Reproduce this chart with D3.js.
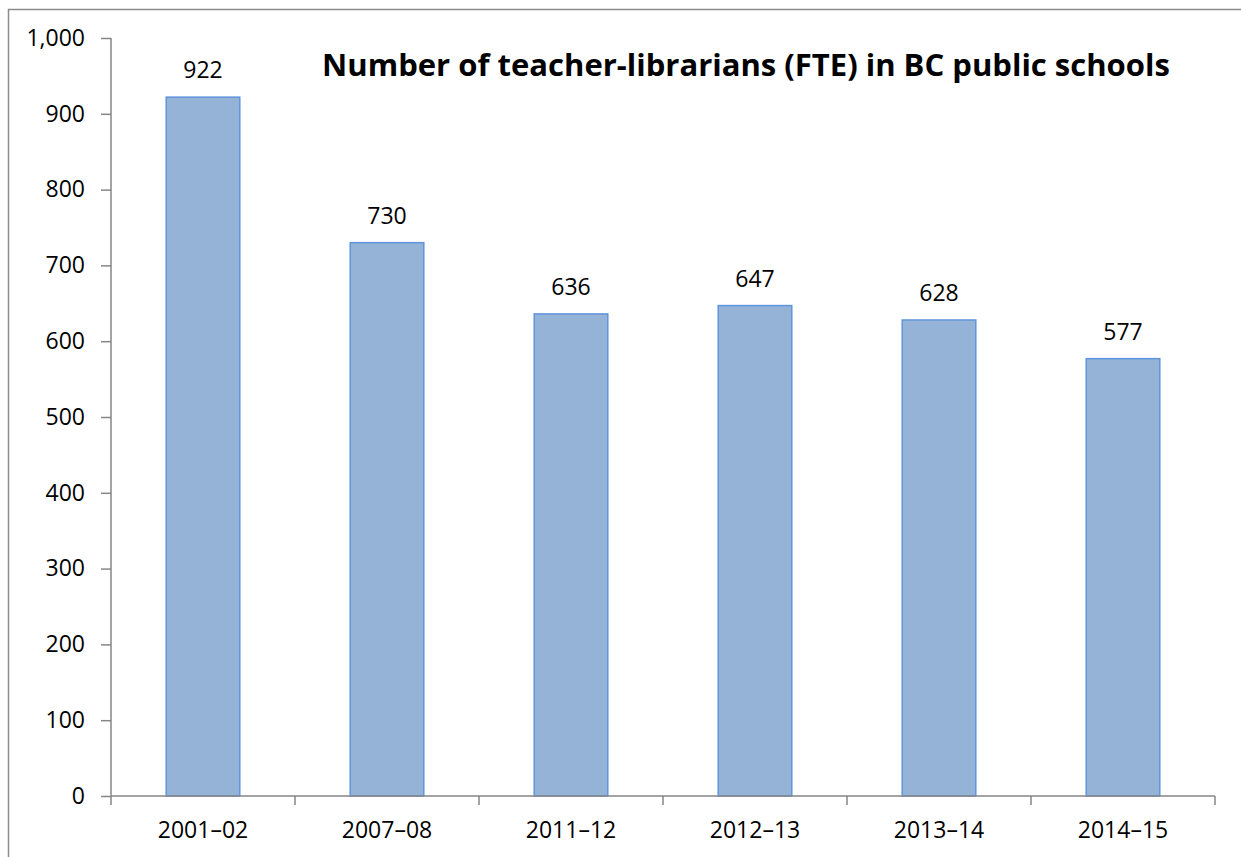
<!DOCTYPE html>
<html>
<head>
<meta charset="utf-8">
<script src="https://cdn.jsdelivr.net/npm/d3@7"></script>
<style>
  html, body { margin: 0; padding: 0; background: #fff; }
  svg { display: block; font-family: "Open Sans", "Liberation Sans", sans-serif; }
</style>
</head>
<body>
<svg id="chart" width="1241" height="857"></svg>
<script>
const years = ['2001–02', '2007–08', '2011–12', '2012–13', '2013–14', '2014–15'];
const teachers = [922, 730, 636, 647, 628, 577];
const yTicks = [0, 100, 200, 300, 400, 500, 600, 700, 800, 900, 1000];

const margin = { top: 38, right: 26, bottom: 61, left: 111 };
const width = 1241 - margin.left - margin.right;
const height = 857 - margin.top - margin.bottom;
const fontSize = 23;

const svg = d3.select('#chart');

// outer chart border
svg.append('rect')
  .attr('x', 8.5).attr('y', 9.5)
  .attr('width', 1250).attr('height', 900)
  .attr('fill', 'none')
  .attr('stroke', '#8c8c8c')
  .attr('stroke-width', 1.5);

const g = svg.append('g')
  .attr('transform', `translate(${margin.left},${margin.top})`);

const x = d3.scaleBand().domain(years).range([0, width]).paddingInner(0.6).paddingOuter(0.3);
const y = d3.scaleLinear().domain([0, 1000]).range([height, 0]);

// bars
g.selectAll('.bar')
  .data(teachers)
  .enter()
  .append('rect')
  .attr('class', 'bar')
  .attr('x', (d, i) => x(years[i]))
  .attr('y', (d) => y(d))
  .attr('width', x.bandwidth())
  .attr('height', (d) => height - y(d))
  .attr('fill', '#95b3d7')
  .attr('stroke', '#5f95dc')
  .attr('stroke-width', 1.5);

// value labels
g.selectAll('.val')
  .data(teachers)
  .enter()
  .append('text')
  .attr('x', (d, i) => x(years[i]) + x.bandwidth() / 2)
  .attr('y', (d) => y(d) - 19)
  .attr('text-anchor', 'middle')
  .style('font-size', `${fontSize}px`)
  .attr('fill', '#000')
  .text((d) => d);

// y axis
const yAxis = g.append('g')
  .call(d3.axisLeft(y).tickValues(yTicks).tickSize(10).tickPadding(16).tickFormat(d3.format(',')));
yAxis.attr('font-family', null).attr('font-size', null);
yAxis.selectAll('line, path').attr('stroke', '#868686').attr('stroke-width', 1.5);
yAxis.select('.domain').attr('d', `M0,${height}V0`);
yAxis.selectAll('text').style('font-size', `${fontSize}px`).attr('fill', '#000');

// x axis with ticks at category boundaries
const xAxis = g.append('g').attr('transform', `translate(0,${height})`);
xAxis.append('path')
  .attr('d', `M0,0H${width}`)
  .attr('stroke', '#868686').attr('stroke-width', 1.5);
const step = width / years.length;
xAxis.selectAll('.tick')
  .data(d3.range(years.length + 1))
  .enter()
  .append('line')
  .attr('x1', (d) => d * step).attr('x2', (d) => d * step)
  .attr('y1', 0).attr('y2', 9)
  .attr('stroke', '#868686').attr('stroke-width', 1.5);
xAxis.selectAll('.lbl')
  .data(years)
  .enter()
  .append('text')
  .attr('x', (d) => x(d) + x.bandwidth() / 2)
  .attr('y', 42)
  .attr('text-anchor', 'middle')
  .style('font-size', `${fontSize}px`)
  .attr('fill', '#000')
  .text((d) => d);

// title
const title = svg.append('text')
  .attr('x', 746)
  .attr('y', 76)
  .attr('text-anchor', 'middle')
  .attr('font-weight', 'bold')
  .style('font-size', '28px')
  .attr('fill', '#000')
  .text('Number of teacher-librarians (FTE) in BC public schools');
const tw = title.node().getComputedTextLength();
title.style('font-size', `${28 * 848 / tw}px`);
</script>
</body>
</html>
